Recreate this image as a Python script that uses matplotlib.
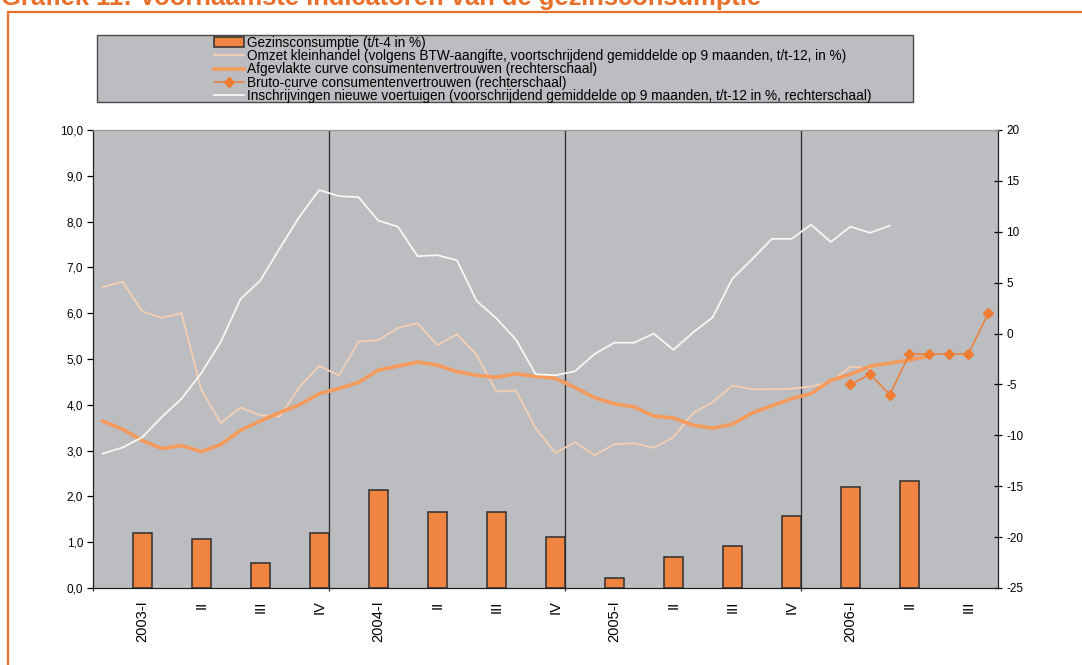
import numpy as np
import matplotlib
matplotlib.use("Agg")
import matplotlib.pyplot as plt
from matplotlib.patches import Rectangle
from matplotlib.ticker import FuncFormatter, FixedLocator

plt.rcParams['font.family'] = ['Liberation Sans', 'DejaVu Sans']

# Kwartalen (staven aan het einde van elk kwartaal)
kwartalen = ["2003-I", "II", "III", "IV", "2004-I", "II", "III", "IV",
             "2005-I", "II", "III", "IV", "2006-I", "II", "III"]
# Gezinsconsumptie (t/t-4 in %), linkerschaal
gezinsconsumptie = [1.20, 1.07, 0.54, 1.21, 2.15, 1.67, 1.66, 1.12,
                    0.22, 0.67, 0.91, 1.58, 2.20, 2.33]

# Maandelijkse reeksen, januari 2003 = maand 0
omzet = [6.57, 6.69, 6.04, 5.90, 6.00, 4.33, 3.60, 3.94, 3.77, 3.75,
         4.39, 4.85, 4.64, 5.38, 5.41, 5.68, 5.78, 5.30, 5.54, 5.09,
         4.29, 4.31, 3.49, 2.95, 3.18, 2.90, 3.14, 3.16, 3.06, 3.29,
         3.82, 4.06, 4.42, 4.34, 4.34, 4.35, 4.40, 4.50, 4.83, 4.80]
afgevlakt = [-8.6, -9.4, -10.5, -11.3, -11.0, -11.6, -10.9, -9.5, -8.6, -7.75,
             -7.0, -5.9, -5.4, -4.8, -3.6, -3.2, -2.8, -3.1, -3.75, -4.1,
             -4.3, -3.95, -4.2, -4.4, -5.3, -6.3, -6.9, -7.2, -8.1, -8.3,
             -9.0, -9.3, -8.9, -7.8, -7.1, -6.4, -5.9, -4.6, -4.0, -3.2,
             -2.9, -2.6, -2.2]
bruto_start = 38
bruto = [-5, -4, -6, -2, -2, -2, -2, 2]
voertuigen = [-11.8, -11.2, -10.2, -8.2, -6.4, -3.9, -0.8, 3.4, 5.2, 8.4,
              11.5, 14.1, 13.5, 13.4, 11.1, 10.5, 7.6, 7.7, 7.2, 3.2,
              1.5, -0.6, -4.0, -4.1, -3.7, -2.0, -0.9, -0.9, 0.0, -1.6,
              0.1, 1.6, 5.4, 7.3, 9.3, 9.3, 10.7, 9.0, 10.5, 9.9,
              10.6]
n_maanden = 46

oranje = '#ef8541'
titel_oranje = '#e8702a'
grijs = '#bcbdc1'

W, H = 1082, 665
fig = plt.figure(figsize=(W / 100, H / 100), dpi=100)

# oranje kader en (bovenaan afgesneden) titel
fig.patches.append(Rectangle((8 / W, -0.1), 1.2, 1.1 - 12 / H, transform=fig.transFigure,
                             fill=False, edgecolor=titel_oranje, linewidth=1.6))
fig.text(1 / W, 1 - 5 / H, "Grafiek 11: Voornaamste indicatoren van de gezinsconsumptie",
         color=titel_oranje, fontsize=18.4, fontweight='bold', va='baseline', ha='left')

ax = fig.add_axes([93 / W, 1 - 588 / H, 905 / W, 458 / H])
ax.set_facecolor(grijs)
ax2 = ax.twinx()

x_kw = np.arange(len(gezinsconsumptie)) * 3 + 2
staven = ax.bar(x_kw, gezinsconsumptie, width=0.97, color=oranje, edgecolor='#2e2e2e',
                linewidth=1.1, zorder=2, label="Gezinsconsumptie (t/t-4 in %)")
l_omzet, = ax.plot(np.arange(len(omzet)), omzet, color='#f5cfb2', lw=1.3, zorder=3,
                   label="Omzet kleinhandel (volgens BTW-aangifte, voortschrijdend gemiddelde op 9 maanden, t/t-12, in %)")
for xv in [11.5, 23.5, 35.5]:
    ax.axvline(xv, color='#2a2a2a', lw=0.9, zorder=1)

l_afg, = ax2.plot(np.arange(len(afgevlakt)), afgevlakt, color='#f39a5c', lw=2.6, zorder=3,
                  label="Afgevlakte curve consumentenvertrouwen (rechterschaal)")
l_bruto, = ax2.plot(np.arange(len(bruto)) + bruto_start, bruto, color='#ee7d33', lw=1.1,
                    marker='D', markersize=5.5, zorder=4,
                    label="Bruto-curve consumentenvertrouwen (rechterschaal)")
l_voert, = ax2.plot(np.arange(len(voertuigen)), voertuigen, color='#f8f7f2', lw=1.3, zorder=3,
                    label="Inschrijvingen nieuwe voertuigen (voorschrijdend gemiddelde op 9 maanden, t/t-12 in %, rechterschaal)")

ax.set_xlim(-0.5, n_maanden - 0.5)
ax.set_ylim(0, 10)
ax2.set_ylim(-25, 20)
ax.set_yticks(np.arange(0, 10.01, 1.0))
ax2.set_yticks(np.arange(-25, 21, 5))
ax.yaxis.set_major_formatter(FuncFormatter(lambda v, p: f"{v:.1f}".replace('.', ',')))
ax2.yaxis.set_major_formatter(FuncFormatter(lambda v, p: f"{int(round(v))}"))

ax.set_xticks(np.arange(len(kwartalen)) * 3 + 2)
ax.set_xticklabels(kwartalen, rotation=90, fontsize=10.5)
ax.xaxis.set_minor_locator(FixedLocator([-0.5, 11.5, 23.5, 35.5]))
ax.tick_params(axis='x', which='major', length=0, pad=9)
ax.tick_params(axis='x', which='minor', length=4, width=0.9, direction='inout', color='#2a2a2a')
ax.tick_params(axis='y', labelsize=8.5, length=4, width=0.9, direction='out', pad=3)
ax2.tick_params(axis='y', labelsize=8.5, length=6, width=0.9, direction='inout', pad=3)

for a in (ax, ax2):
    a.spines['top'].set_color('#9b9b9b')
    a.spines['left'].set_color('#1e1e1e')
    a.spines['right'].set_color('#1e1e1e')
    a.spines['bottom'].set_color('#1e1e1e')

# legenda in grijs kader
fig.patches.append(Rectangle((97 / W, 1 - 102 / H), 816 / W, 67 / H, transform=fig.transFigure,
                             facecolor=grijs, edgecolor='#4a4a4a', linewidth=1.0))
handles = [staven, l_omzet, l_afg, l_bruto, l_voert]
fig.legend(handles, [h.get_label() for h in handles], loc='upper left',
           bbox_to_anchor=(214 / W, 1 - 36 / H),
           frameon=False, fontsize=9.8, handlelength=2.2, handletextpad=0.2,
           labelspacing=-0.06, borderpad=0, borderaxespad=0)

fig.savefig("out.png", dpi=100)
